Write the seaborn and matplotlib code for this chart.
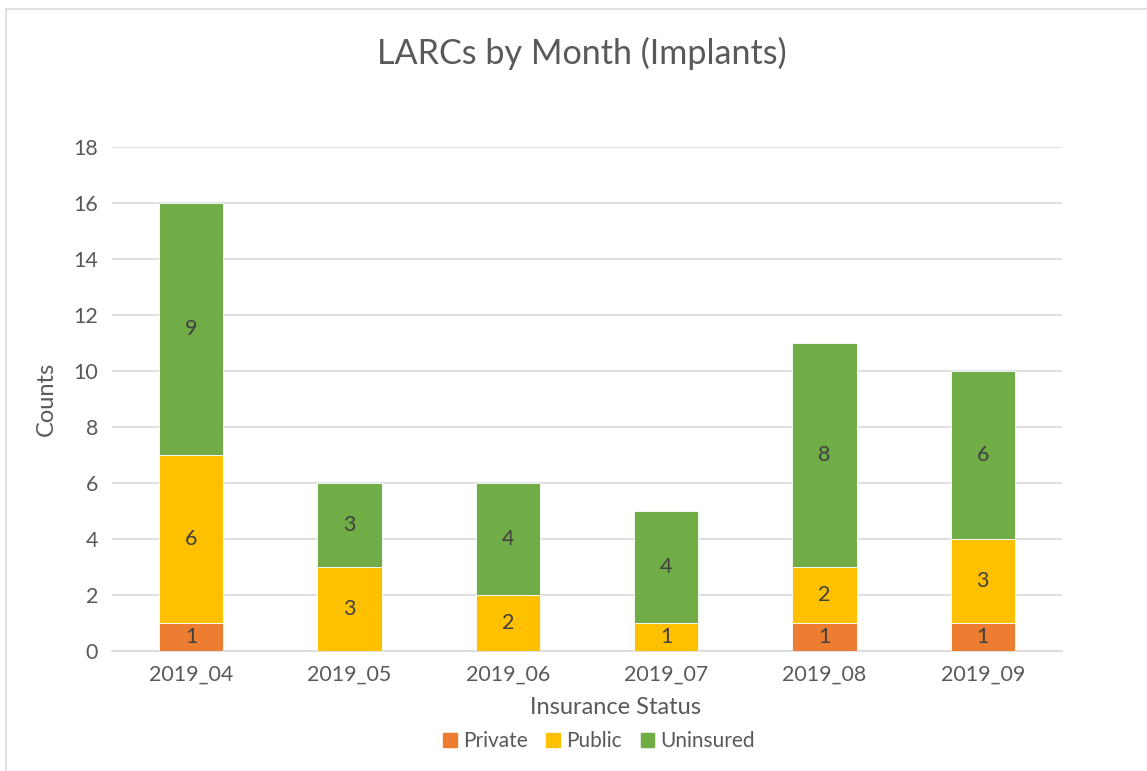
import matplotlib
matplotlib.use("Agg")
import matplotlib.pyplot as plt
import matplotlib.patches as mpatches
import numpy as np
import pandas as pd
import seaborn as sns

months = ["2019_04", "2019_05", "2019_06", "2019_07", "2019_08", "2019_09"]
private = [1, 0, 0, 0, 1, 1]
public = [6, 3, 2, 1, 2, 3]
uninsured = [9, 3, 4, 4, 8, 6]

statuses = ["Private", "Public", "Uninsured"]
colors = {"Private": "#ED7D31", "Public": "#FFC000", "Uninsured": "#70AD47"}
text_color = "#595959"

df = pd.DataFrame({"Month": months, "Private": private,
                   "Public": public, "Uninsured": uninsured})

sns.set_style("white")
plt.rcParams["font.family"] = ["Lato", "DejaVu Sans"]

fig = plt.figure(figsize=(11.47, 7.71), dpi=100)
ax = fig.add_axes([112 / 1147, 1 - 651 / 771, 950 / 1147, 504 / 771])

bottom = np.zeros(len(months))
for status in statuses:
    sns.barplot(data=df, x="Month", y=status, order=months, color=colors[status],
                saturation=1, bottom=bottom, width=0.405, edgecolor="white",
                linewidth=0.6, ax=ax, zorder=3)
    labels = [str(v) if v > 0 else "" for v in df[status]]
    ax.bar_label(ax.containers[-1], labels=labels, label_type="center",
                 fontsize=15.5, color="#404040")
    bottom = bottom + df[status].to_numpy()

ax.set_ylim(0, 18)
ax.set_xlim(-0.5, len(months) - 0.5)
ax.set_yticks(range(0, 19, 2))
ax.yaxis.grid(True, color="#D9D9D9", linewidth=1.2, zorder=0)
ax.set_axisbelow(True)
sns.despine(ax=ax, left=True, top=True, right=True)
ax.spines["bottom"].set_color("#D9D9D9")
ax.spines["bottom"].set_linewidth(1.2)
ax.tick_params(axis="both", length=0, labelsize=15.4, labelcolor=text_color, pad=10)
ax.set_xlabel("")
ax.set_ylabel("Counts", fontsize=17, color=text_color, labelpad=12)

fig.text(615 / 1147, 1 - 708 / 771, "Insurance Status", ha="center", va="center",
         fontsize=17, color=text_color)
fig.suptitle("LARCs by Month (Implants)", x=582 / 1147, y=1 - 53 / 771, va="center",
             fontsize=24.6, color=text_color)

handles = [mpatches.Patch(color=colors[s], label=s) for s in statuses]
fig.legend(handles=handles, loc="center", bbox_to_anchor=(599 / 1147, 1 - 741 / 771),
           ncol=3, frameon=False, fontsize=15, labelcolor=text_color,
           handlelength=0.65, handleheight=0.65, handletextpad=0.3, columnspacing=0.9)

fig.patches.append(mpatches.Rectangle((6 / 1147, -0.05), 1.1, 1.05 - 9 / 771,
                                      transform=fig.transFigure, fill=False,
                                      edgecolor="#D9D9D9", linewidth=1.2))

fig.savefig("out.png", dpi=100, facecolor="white")
